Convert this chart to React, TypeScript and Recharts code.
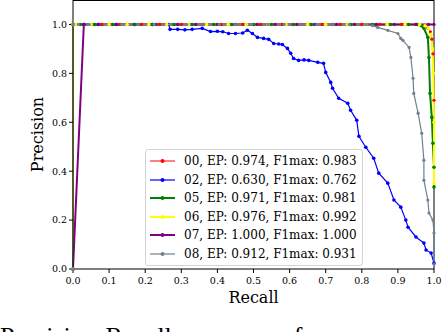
import React from 'react';
import { LineChart, Line, XAxis, YAxis, ReferenceLine, Legend } from 'recharts';

// [recall, precision] pairs
const pr00: [number, number][] = [
  [0, 0], [0, 1], [0.03, 1], [0.08, 1], [0.13, 1], [0.19, 1], [0.24, 1], [0.3, 1], [0.36, 1], [0.41, 1],
  [0.47, 1], [0.52, 1], [0.58, 1], [0.63, 1], [0.69, 1], [0.74, 1], [0.8, 1], [0.85, 1], [0.91, 1], [0.95, 1],
  [0.972, 0.995], [0.983, 0.985], [0.99, 0.97], [0.994, 0.94], [0.997, 0.88], [1.0, 0.69],
];

const pr02: [number, number][] = [
  [0, 0], [0, 1], [0.03, 1], [0.07, 1], [0.12, 1], [0.17, 1], [0.22, 1], [0.265, 1], [0.269, 0.98], [0.29, 0.98],
  [0.31, 0.978], [0.33, 0.98], [0.358, 0.984], [0.381, 0.971], [0.4, 0.972], [0.415, 0.97], [0.431, 0.963],
  [0.45, 0.963], [0.47, 0.965], [0.483, 0.976], [0.497, 0.963], [0.511, 0.947], [0.528, 0.943], [0.542, 0.939],
  [0.556, 0.922], [0.57, 0.92], [0.58, 0.918], [0.594, 0.902], [0.603, 0.882], [0.611, 0.861], [0.625, 0.853],
  [0.64, 0.855], [0.653, 0.853], [0.678, 0.845], [0.694, 0.841], [0.7, 0.804], [0.714, 0.763], [0.719, 0.739],
  [0.736, 0.698], [0.761, 0.678], [0.769, 0.649], [0.786, 0.608], [0.792, 0.543], [0.811, 0.498], [0.833, 0.453],
  [0.847, 0.392], [0.872, 0.351], [0.889, 0.282], [0.908, 0.253], [0.922, 0.2], [0.928, 0.171], [0.95, 0.131],
  [0.972, 0.106], [0.978, 0.078], [0.992, 0.065], [1.0, 0.024],
];

const pr05: [number, number][] = [
  [0, 0], [0, 1], [0.02, 1], [0.06, 1], [0.11, 1], [0.17, 1], [0.22, 1], [0.28, 1], [0.33, 1], [0.39, 1],
  [0.44, 1], [0.5, 1], [0.55, 1], [0.61, 1], [0.66, 1], [0.72, 1], [0.77, 1], [0.83, 1], [0.88, 1], [0.93, 1],
  [0.955, 1], [0.965, 0.995], [0.972, 0.984], [0.983, 0.947], [0.986, 0.865], [0.989, 0.718], [0.994, 0.62],
  [0.997, 0.514], [1.0, 0.416], [1.0, 0.335],
];

const pr06: [number, number][] = [
  [0, 0], [0, 1], [0.01, 1], [0.05, 1], [0.1, 1], [0.15, 1], [0.21, 1], [0.26, 1], [0.32, 1], [0.37, 1],
  [0.43, 1], [0.48, 1], [0.54, 1], [0.59, 1], [0.65, 1], [0.7, 1], [0.76, 1], [0.81, 1], [0.87, 1], [0.92, 1],
  [0.96, 1], [0.975, 0.995], [0.985, 0.985], [0.992, 0.96], [0.996, 0.9], [0.998, 0.8], [1.0, 0.6], [1.0, 0.35],
];

const pr07: [number, number][] = [
  [0, 0], [0.03, 1], [0.07, 1], [0.12, 1], [0.18, 1], [0.23, 1], [0.29, 1], [0.34, 1], [0.4, 1], [0.45, 1],
  [0.51, 1], [0.56, 1], [0.62, 1], [0.67, 1], [0.73, 1], [0.78, 1], [0.84, 1], [0.89, 1], [0.95, 1], [0.985, 1], [1.0, 1],
];

const pr08: [number, number][] = [
  [0, 0], [0, 1], [0.015, 1], [0.045, 1], [0.09, 1], [0.135, 1], [0.18, 1], [0.225, 1], [0.27, 1], [0.315, 1],
  [0.36, 1], [0.405, 1], [0.45, 1], [0.495, 1], [0.54, 1], [0.585, 1], [0.63, 1], [0.675, 1], [0.72, 1], [0.765, 1],
  [0.81, 1], [0.83, 0.995], [0.844, 0.988], [0.872, 0.976], [0.9, 0.963], [0.908, 0.943], [0.914, 0.935],
  [0.931, 0.906], [0.936, 0.865], [0.942, 0.78], [0.944, 0.718], [0.956, 0.637], [0.966, 0.555], [0.972, 0.445],
  [0.972, 0.363], [0.983, 0.282], [0.986, 0.229], [0.997, 0.2], [1.0, 0.147], [1.0, 0.02],
];

const xTicks = [0, 0.1, 0.2, 0.3, 0.4, 0.5, 0.6, 0.7, 0.8, 0.9, 1.0];
const yTicks = [0, 0.2, 0.4, 0.6, 0.8, 1.0];

const series = [
  { name: '00, EP: 0.974, F1max: 0.983', color: '#ff0000', width: 1, r: 1.6, pts: pr00 },
  { name: '02, EP: 0.630, F1max: 0.762', color: '#0000ff', width: 1.2, r: 1.8, pts: pr02 },
  { name: '05, EP: 0.971, F1max: 0.981', color: '#008000', width: 2, r: 1.8, pts: pr05 },
  { name: '06, EP: 0.976, F1max: 0.992', color: '#ffff00', width: 2, r: 1.8, pts: pr06 },
  { name: '07, EP: 1.000, F1max: 1.000', color: '#800080', width: 2, r: 1.6, pts: pr07 },
  { name: '08, EP: 0.912, F1max: 0.931', color: '#708090', width: 1.2, r: 1.6, pts: pr08 },
];

const serif = 'DejaVu Serif';

const LegendBox = () => (
  <div
    style={{
      width: 216,
      height: 113,
      border: '1px solid #d4d4d4',
      borderRadius: 3,
      background: 'rgba(255,255,255,0.85)',
      paddingTop: 2,
      boxSizing: 'content-box',
    }}
  >
    {series.map((s) => (
      <div key={s.name} style={{ height: 18.5, display: 'flex', alignItems: 'center' }}>
        <svg width={38} height={18} style={{ flex: 'none' }}>
          <line x1={4} x2={29} y1={9} y2={9} stroke={s.color} strokeWidth={s.width} />
          <circle cx={16.5} cy={9} r={2} fill={s.color} />
        </svg>
        <span style={{ fontFamily: serif, fontSize: 12, color: '#000', whiteSpace: 'nowrap' }}>{s.name}</span>
      </div>
    ))}
  </div>
);

const XLabel = (props: any) => {
  const vb = props.viewBox;
  return (
    <text x={vb.x + vb.width / 2} y={vb.y + 34} textAnchor="middle" fontFamily={serif} fontSize={16} fill="#000">
      Recall
    </text>
  );
};

const YLabel = (props: any) => {
  const vb = props.viewBox;
  const cx = 43;
  const cy = vb.y + vb.height / 2;
  return (
    <text x={cx} y={cy} textAnchor="middle" fontFamily={serif} fontSize={16} fill="#000" transform={`rotate(-90, ${cx}, ${cy})`}>
      Precision
    </text>
  );
};

const tickStyle = { fill: '#000', fontSize: 9.5, fontFamily: serif };

export default function App() {
  return (
    <div style={{ position: 'absolute', left: 0, top: 0, width: 442, height: 332, overflow: 'hidden', background: '#fff' }}>
      <LineChart width={442} height={332} margin={{ top: 0, right: 8, bottom: 23, left: 0 }}>
        <XAxis
          type="number"
          dataKey="r"
          domain={[0, 1]}
          ticks={xTicks}
          tickFormatter={(v: number) => v.toFixed(1)}
          tick={tickStyle}
          tickSize={4}
          tickMargin={4}
          height={40}
          axisLine={{ stroke: '#000' }}
          tickLine={{ stroke: '#000' }}
          allowDuplicatedCategory={false}
          label={{ content: XLabel }}
        />
        <YAxis
          type="number"
          dataKey="p"
          domain={[0, 1.1]}
          ticks={yTicks}
          tickFormatter={(v: number) => v.toFixed(1)}
          tick={tickStyle}
          tickSize={4}
          tickMargin={2}
          width={73}
          axisLine={{ stroke: '#000' }}
          tickLine={{ stroke: '#000' }}
          label={{ content: YLabel }}
        />
        <ReferenceLine y={1.1} stroke="#000" strokeWidth={2} />
        <ReferenceLine x={1} stroke="#000" strokeWidth={1} />
        {series.map((s) => (
          <Line
            key={s.name}
            name={s.name}
            data={s.pts.map(([r, p]) => ({ r, p }))}
            dataKey="p"
            type="linear"
            stroke={s.color}
            strokeWidth={s.width}
            dot={{ r: s.r, fill: s.color, stroke: s.color, strokeWidth: 0 }}
            activeDot={false}
            isAnimationActive={false}
          />
        ))}
        <Legend
          layout="vertical"
          align="center"
          verticalAlign="middle"
          content={() => <LegendBox />}
          wrapperStyle={{ left: 145, top: 149, width: 218, height: 116 }}
        />
      </LineChart>
      <div
        style={{
          position: 'absolute',
          left: 0,
          top: 324,
          fontFamily: 'Liberation Serif',
          fontSize: 26,
          lineHeight: '26px',
          whiteSpace: 'nowrap',
          wordSpacing: 14,
          color: '#000',
        }}
      >
        Precision-Recall curves of
      </div>
    </div>
  );
}
